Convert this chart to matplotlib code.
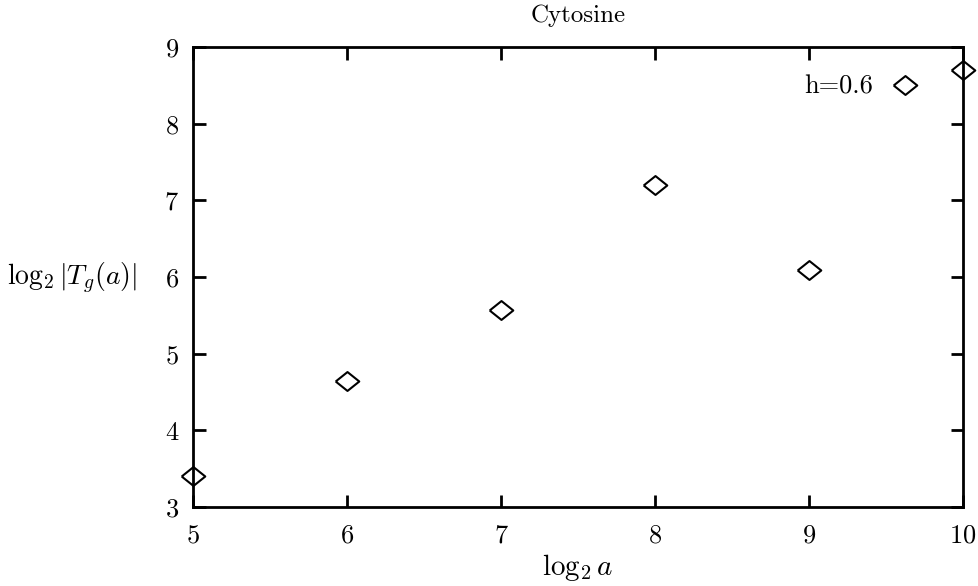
import numpy as np
import matplotlib
matplotlib.use("Agg")
import matplotlib.pyplot as plt

# data
log2_a = [5, 6, 7, 8, 9, 10]
log2_T = [3.40, 4.64, 5.57, 7.20, 6.09, 8.70]
x_ticks = [5, 6, 7, 8, 9, 10]
y_ticks = [3, 4, 5, 6, 7, 8, 9]

plt.rcParams['font.family'] = 'cmr10'
plt.rcParams['mathtext.fontset'] = 'cm'
plt.rcParams['axes.formatter.use_mathtext'] = True

# wide diamond marker
diamond = [(-1, 0), (0, 0.8), (1, 0), (0, -0.8), (-1, 0)]

fig = plt.figure(figsize=(9.79, 5.86), dpi=100)
ax = fig.add_axes([193 / 979, 1 - 507 / 586, 770 / 979, 460 / 586])

ax.plot(log2_a, log2_T, linestyle='none', marker=diamond, markersize=17,
        markerfacecolor='none', markeredgecolor='black', markeredgewidth=1.5,
        label='h=0.6', clip_on=False)

ax.set_xlim(5, 10)
ax.set_ylim(3, 9)
ax.set_xticks(x_ticks)
ax.set_yticks(y_ticks)
ax.tick_params(direction='in', length=9, width=2, labelsize=19,
               top=True, right=True)
ax.tick_params(axis='x', pad=12)
ax.tick_params(axis='y', pad=10)
for s in ax.spines.values():
    s.set_linewidth(2)

ax.set_title('Cytosine', fontsize=18, pad=18)
ax.set_xlabel(r'$\log_2 a$', fontsize=21, labelpad=3)
ax.set_ylabel(r'$\log_2 |T_g(a)|$', fontsize=20, rotation=0, va='center')
ax.yaxis.set_label_coords(-0.157, 0.497)

ax.legend(loc='center right', bbox_to_anchor=(0.962, 0.913), frameon=False,
          markerfirst=False, fontsize=19, handlelength=1.2, handletextpad=0.6,
          borderpad=0, numpoints=1)

fig.savefig('out.png', dpi=100, facecolor='white')
